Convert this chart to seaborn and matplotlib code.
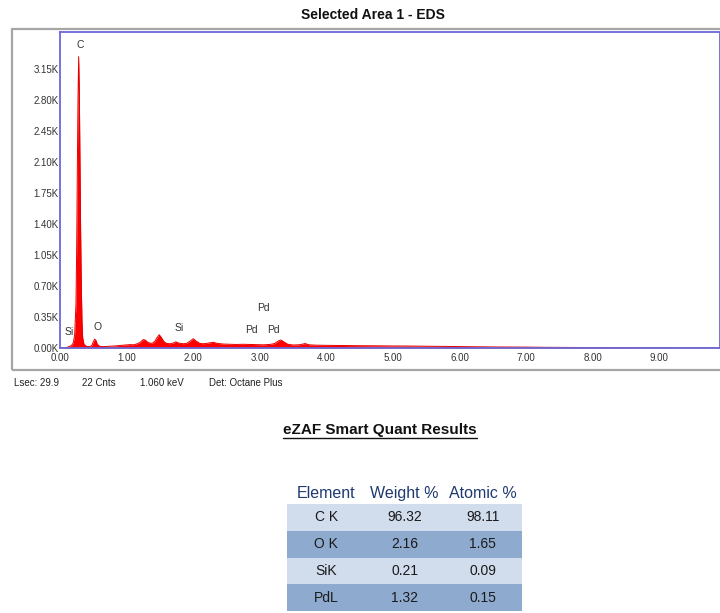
import numpy as np
import pandas as pd
import seaborn as sb
import matplotlib.pyplot as plt
from matplotlib.colors import ListedColormap
from matplotlib.patches import Rectangle

# spectrum (keV, counts)
energy = [0.00, 0.05, 0.10, 0.15, 0.18, 0.20, 0.22, 0.24, 0.25, 0.26, 0.27, 0.28, 0.29,
          0.30, 0.31, 0.32, 0.33, 0.34, 0.36, 0.40, 0.45, 0.48, 0.50, 0.52, 0.54, 0.56,
          0.60, 0.65, 0.70, 0.75, 0.80, 0.85, 0.90, 0.95, 1.00, 1.05, 1.10, 1.15, 1.20,
          1.25, 1.28, 1.32, 1.38, 1.42, 1.46, 1.49, 1.52, 1.56, 1.60, 1.65, 1.70, 1.74,
          1.78, 1.85, 1.90, 1.95, 2.00, 2.04, 2.10, 2.15, 2.20, 2.30, 2.36, 2.45, 2.55,
          2.65, 2.75, 2.85, 2.95, 3.05, 3.15, 3.22, 3.28, 3.32, 3.36, 3.42, 3.50, 3.60,
          3.68, 3.74, 3.85, 4.00, 4.25, 4.50, 4.75, 5.00, 5.25, 5.50, 5.75, 6.00, 6.25,
          6.50, 6.75, 7.00, 7.25, 7.50, 7.75, 8.00, 8.25, 8.50, 8.75, 9.00, 9.25, 9.50,
          9.75, 10.0]
counts = [0, 2, 6, 20, 35, 60, 150, 500, 1100, 2000, 2800, 3290, 2900,
          2100, 1300, 700, 300, 120, 40, 18, 15, 32, 70, 100, 85, 40,
          18, 16, 18, 20, 22, 25, 28, 32, 35, 38, 36, 45, 62,
          95, 90, 62, 52, 72, 120, 150, 120, 72, 52, 48, 56, 70,
          56, 48, 52, 75, 105, 80, 52, 48, 52, 65, 52, 45, 42,
          40, 42, 40, 38, 36, 40, 50, 80, 90, 70, 42, 34, 37,
          50, 36, 32, 30, 28, 26, 25, 23, 22, 20, 18, 16, 14,
          12, 11, 10, 8, 7, 6, 5, 4, 4, 3, 3, 2, 2,
          2, 1]

peak_names = ["C", "Si", "O", "Si", "Pd", "Pd", "Pd"]
peak_x = [0.30, 0.14, 0.56, 1.79, 2.88, 3.05, 3.21]
peak_y = [3420, 180, 237, 226, 203, 452, 203]

yticks = [0, 350, 700, 1050, 1400, 1750, 2100, 2450, 2800, 3150]
xticks = [0, 1, 2, 3, 4, 5, 6, 7, 8, 9]

footer = ["Lsec: 29.9", "22 Cnts", "1.060 keV", "Det: Octane Plus"]

elements = ["C K", "O K", "SiK", "PdL"]
weight = ["96.32", "2.16", "0.21", "1.32"]
atomic = ["98.11", "1.65", "0.09", "0.15"]
columns = ["Element", "Weight %", "Atomic %"]

sb.set_style("white")
plt.rcParams['font.family'] = ['Liberation Sans', 'DejaVu Sans']

W, H = 720, 613
fig = plt.figure(figsize=(W / 100, H / 100), dpi=100)

def fx(px):
    return px / W

def fy(py):
    return 1 - py / H

# grey outer frame of the spectrum window
fig.patches.append(Rectangle((fx(12), fy(370)), 1.2, fy(29) - fy(370), transform=fig.transFigure,
                             fill=False, ec="#a6a6a6", lw=1.6))

fig.text(fx(373), fy(15), "Selected Area 1 - EDS", ha="center", va="center",
         fontsize=10, fontweight="bold", color="#111111")

ax = fig.add_axes([fx(60), fy(348), 1 - fx(60), fy(32) - fy(348)])
df = pd.DataFrame({"keV": energy, "counts": counts})
sb.lineplot(data=df, x="keV", y="counts", color="#e30000", lw=0.7, ax=ax)
ax.fill_between(df["keV"], df["counts"], color="#ff0000", lw=0)
ax.set_xlim(0, (W - 60) / 66.6)
ax.set_ylim(0, 3568)
ax.set_xlabel("")
ax.set_ylabel("")
ax.set_xticks(xticks)
ax.set_xticklabels([f"{v:.2f}" for v in xticks])
ax.set_yticks(yticks)
ax.set_yticklabels([f"{v / 1000:.2f}K" for v in yticks])
ax.tick_params(axis="both", labelsize=7, colors="#333333", length=2, width=0.6, pad=1.5)
ax.tick_params(axis="y", direction="in", pad=1)
for s in ax.spines.values():
    s.set_color("#6a6ad8")
    s.set_linewidth(1.3)
for name, x, y in zip(peak_names, peak_x, peak_y):
    ax.text(x, y, name, ha="center", va="center", fontsize=7.5, color="#333333")

for px, t in zip([14, 82, 140, 209], footer):
    fig.text(fx(px), fy(383), t, ha="left", va="center", fontsize=7, color="#222222")

fig.text(fx(380), fy(430), "eZAF Smart Quant Results", ha="center", va="center",
         fontsize=11, fontweight="bold", color="#111111")
fig.lines.append(plt.Line2D([fx(283), fx(477)], [fy(438), fy(438)], transform=fig.transFigure,
                            color="#111111", lw=1))

# quant table as a two-tone heatmap
tab = fig.add_axes([fx(287), fy(611), fx(522) - fx(287), fy(504) - fy(611)])
shade = np.array([[i % 2] * len(columns) for i in range(len(elements))])
labels = np.array([elements, weight, atomic]).T
sb.heatmap(shade, annot=labels, fmt="", cmap=ListedColormap(["#d1dcec", "#8faacf"]),
           cbar=False, xticklabels=columns, yticklabels=False, ax=tab,
           annot_kws={"fontsize": 10, "color": "#1a1a1a"})
tab.xaxis.tick_top()
tab.tick_params(axis="x", length=0, pad=2, labelsize=11.5, labelcolor="#1f3a70")

fig.savefig("out.png", dpi=100)
